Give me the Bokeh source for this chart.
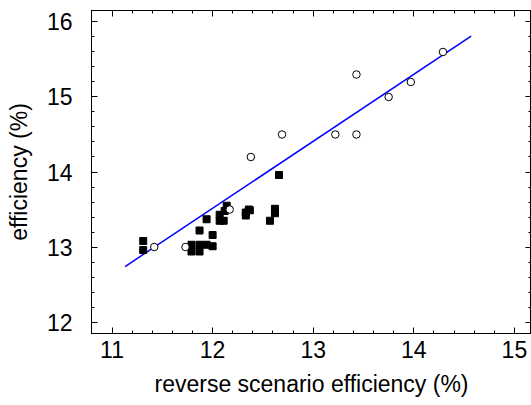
from bokeh.plotting import figure
from bokeh.models import LinearAxis, Range1d, FixedTicker
from bokeh.embed import file_html
from bokeh.resources import INLINE

# open circles
circ_x = [11.42, 11.73, 12.17, 12.38, 12.69, 13.22, 13.43, 13.43, 13.75, 13.97, 14.29]
circ_y = [13.00, 13.00, 13.50, 14.20, 14.50, 14.50, 14.50, 15.30, 15.00, 15.20, 15.60]

# filled squares
sq_x = [11.31, 11.31, 11.79, 11.79, 11.87, 11.87, 11.94, 12.00, 11.87, 11.94, 12.00,
        12.07, 12.07, 12.11, 12.14, 12.12, 12.33, 12.36, 12.37, 12.33, 12.62, 12.62,
        12.57, 12.66]
sq_y = [13.08, 12.96, 13.03, 12.94, 13.03, 12.94, 13.03, 13.01, 13.22, 13.37, 13.16,
        13.43, 13.35, 13.35, 13.55, 13.48, 13.46, 13.50, 13.49, 13.42, 13.51, 13.45,
        13.35, 13.96]

# fitted line
fit_x = [11.13, 14.57]
fit_y = [12.74, 15.81]

x_ticks = [11, 12, 13, 14, 15]
y_ticks = [12, 13, 14, 15, 16]
minor_all = [t / 5 for t in range(50, 81)]

FONT = "Liberation Sans"
FS = "23px"

p = figure(width=531, height=405, output_backend="svg", toolbar_location=None,
           x_range=Range1d(10.796, 15.17), y_range=Range1d(11.847, 16.153),
           min_border_left=91, min_border_right=0, min_border_top=10, min_border_bottom=72)

p.xgrid.visible = False
p.ygrid.visible = False
p.outline_line_color = "black"
p.outline_line_width = 1
p.background_fill_color = "white"
p.border_fill_color = "white"

p.line(fit_x, fit_y, line_color="#0000ff", line_width=1.5)
p.scatter(sq_x, sq_y, marker="square", size=7, fill_color="black", line_color="black")
p.scatter(circ_x, circ_y, marker="circle", size=7.5, fill_color="white", line_color="black", line_width=1)

def style(ax, ticks):
    ax.ticker = FixedTicker(ticks=ticks, minor_ticks=minor_all)
    ax.major_tick_in = 6
    ax.major_tick_out = 0
    ax.minor_tick_in = 3
    ax.minor_tick_out = 0
    ax.major_tick_line_color = "black"
    ax.minor_tick_line_color = "black"
    ax.axis_line_color = "black"
    ax.major_label_text_font = FONT
    ax.major_label_text_font_size = FS
    ax.major_label_text_color = "black"
    ax.axis_label_text_font = FONT
    ax.axis_label_text_font_size = FS
    ax.axis_label_text_font_style = "normal"
    ax.axis_label_text_color = "black"

def bare_axis(positions, length):
    # label-free axis: only minor ticks drawn, pointing into the frame
    ax = LinearAxis(ticker=FixedTicker(ticks=[], minor_ticks=positions))
    ax.major_tick_in = 0
    ax.major_tick_out = 0
    ax.minor_tick_in = length
    ax.minor_tick_out = 0
    ax.minor_tick_line_color = "black"
    ax.axis_line_color = "black"
    ax.major_label_standoff = 0
    ax.axis_label_standoff = 0
    return ax

xa = p.xaxis[0]
style(xa, x_ticks)
xa.axis_label = "reverse scenario efficiency (%)"
xa.major_label_standoff = 7
xa.axis_label_standoff = 10

ya = p.yaxis[0]
style(ya, y_ticks)
ya.axis_label = "efficiency (%)"
ya.major_label_standoff = 19
ya.axis_label_standoff = 12

p.add_layout(bare_axis(minor_all, 3), "above")
p.add_layout(bare_axis(x_ticks, 6), "above")
p.add_layout(bare_axis(minor_all, 3), "right")
p.add_layout(bare_axis(y_ticks, 6), "right")

open("out.html", "w").write(file_html(p, INLINE))
